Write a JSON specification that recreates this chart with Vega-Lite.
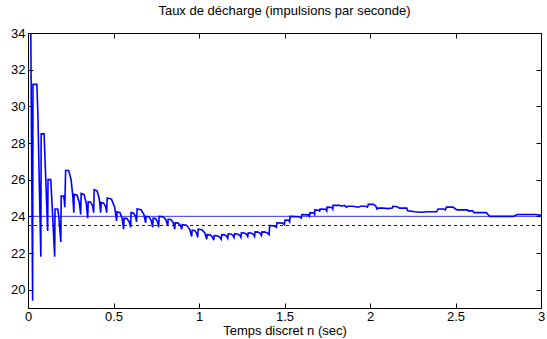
{
  "$schema": "https://vega.github.io/schema/vega-lite/v6.json",
  "width": 513,
  "height": 275,
  "autosize": "none",
  "padding": {"left": 28, "top": 33, "right": 6, "bottom": 31},
  "background": "white",
  "config": {
    "font": "Liberation Sans",
    "view": {"stroke": "black", "strokeWidth": 1},
    "axis": {"grid": false, "domainColor": "black", "tickColor": "black", "labelColor": "black", "titleColor": "black", "labelFont": "Liberation Sans", "titleFont": "Liberation Sans", "labelFontSize": 13, "titleFontSize": 13, "titleFontWeight": "normal", "tickSize": -5, "labelPadding": 9}
  },
  "title": {"text": "Taux de décharge (impulsions par seconde)", "fontSize": 13, "fontWeight": "normal", "font": "Liberation Sans", "color": "black", "offset": 9},
  "datasets": {
    "rate": [
      {"t":0.012,"v":40},{"t":0.027,"v":19.4},{"t":0.029,"v":31.2},{"t":0.052,"v":31.2},{"t":0.058,"v":29.5},{"t":0.075,"v":21.8},
      {"t":0.077,"v":28.5},{"t":0.094,"v":28.5},{"t":0.100,"v":27.0},{"t":0.115,"v":23.2},{"t":0.117,"v":26.0},{"t":0.133,"v":26.0},
      {"t":0.140,"v":24.8},{"t":0.156,"v":21.8},{"t":0.158,"v":24.4},{"t":0.174,"v":24.4},{"t":0.180,"v":24.0},{"t":0.192,"v":22.6},
      {"t":0.194,"v":25.1},{"t":0.208,"v":25.1},{"t":0.212,"v":24.9},{"t":0.215,"v":24.5},{"t":0.220,"v":26.5},{"t":0.238,"v":26.5},
      {"t":0.252,"v":26.0},{"t":0.262,"v":25.1},{"t":0.268,"v":24.2},
      {"t":0.270,"v":25.2},{"t":0.287,"v":25.15},{"t":0.300,"v":24.76},{"t":0.308,"v":24.1},
      {"t":0.311,"v":25.25},{"t":0.328,"v":25.18},{"t":0.341,"v":24.71},{"t":0.349,"v":23.9},
      {"t":0.352,"v":24.8},{"t":0.366,"v":24.77},{"t":0.378,"v":24.56},{"t":0.384,"v":24.2},
      {"t":0.387,"v":25.45},{"t":0.404,"v":25.39},{"t":0.417,"v":24.95},{"t":0.425,"v":24.2},
      {"t":0.428,"v":24.75},{"t":0.442,"v":24.72},{"t":0.454,"v":24.53},{"t":0.460,"v":24.2},
      {"t":0.463,"v":25.0},{"t":0.488,"v":24.94},{"t":0.507,"v":24.5},{"t":0.518,"v":23.75},
      {"t":0.521,"v":24.25},{"t":0.538,"v":24.2},{"t":0.551,"v":23.87},{"t":0.559,"v":23.3},
      {"t":0.562,"v":23.9},{"t":0.579,"v":23.88},{"t":0.592,"v":23.7},{"t":0.600,"v":23.4},
      {"t":0.603,"v":24.2},{"t":0.617,"v":24.18},{"t":0.629,"v":24.0},{"t":0.635,"v":23.7},
      {"t":0.638,"v":24.4},{"t":0.661,"v":24.36},{"t":0.678,"v":24.1},{"t":0.688,"v":23.65},
      {"t":0.691,"v":24.0},{"t":0.708,"v":23.97},{"t":0.721,"v":23.76},{"t":0.729,"v":23.4},
      {"t":0.732,"v":23.9},{"t":0.746,"v":23.88},{"t":0.758,"v":23.7},{"t":0.764,"v":23.4},
      {"t":0.767,"v":24.0},{"t":0.790,"v":23.98},{"t":0.807,"v":23.8},{"t":0.817,"v":23.5},
      {"t":0.820,"v":23.85},{"t":0.837,"v":23.82},{"t":0.850,"v":23.63},{"t":0.858,"v":23.3},
      {"t":0.861,"v":23.65},{"t":0.878,"v":23.63},{"t":0.891,"v":23.51},{"t":0.899,"v":23.3},
      {"t":0.902,"v":23.55},{"t":0.927,"v":23.52},{"t":0.946,"v":23.29},{"t":0.957,"v":22.9},
      {"t":0.960,"v":23.25},{"t":0.974,"v":23.23},{"t":0.986,"v":23.09},{"t":0.992,"v":22.85},
      {"t":0.995,"v":23.3},{"t":1.018,"v":23.27},{"t":1.035,"v":23.08},{"t":1.045,"v":22.75},
      {"t":1.048,"v":23.0},{"t":1.065,"v":22.99},{"t":1.078,"v":22.88},{"t":1.086,"v":22.7},
      {"t":1.089,"v":22.95},{"t":1.107,"v":22.94},{"t":1.121,"v":22.87},{"t":1.130,"v":22.75},
      {"t":1.133,"v":23.0},{"t":1.149,"v":22.99},{"t":1.161,"v":22.92},{"t":1.168,"v":22.8},
      {"t":1.171,"v":23.05},{"t":1.186,"v":23.04},{"t":1.198,"v":22.97},{"t":1.205,"v":22.85},
      {"t":1.208,"v":23.05},{"t":1.225,"v":23.04},{"t":1.238,"v":22.97},{"t":1.245,"v":22.85},
      {"t":1.248,"v":23.1},{"t":1.265,"v":23.09},{"t":1.278,"v":23.02},{"t":1.285,"v":22.9},
      {"t":1.288,"v":23.1},{"t":1.305,"v":23.09},{"t":1.318,"v":23.02},{"t":1.325,"v":22.9},
      {"t":1.328,"v":23.15},{"t":1.345,"v":23.14},{"t":1.358,"v":23.07},{"t":1.365,"v":22.95},
      {"t":1.368,"v":23.15},{"t":1.387,"v":23.14},{"t":1.402,"v":23.08},{"t":1.410,"v":23.0},
      {"t":1.413,"v":23.5},{"t":1.440,"v":23.48},{"t":1.453,"v":23.4},
      {"t":1.456,"v":23.65},{"t":1.490,"v":23.63},{"t":1.500,"v":23.55},
      {"t":1.503,"v":23.8},{"t":1.525,"v":23.78},{"t":1.530,"v":23.7},
      {"t":1.533,"v":24.0},{"t":1.585,"v":23.98},{"t":1.598,"v":23.9},
      {"t":1.602,"v":24.1},{"t":1.640,"v":24.08},{"t":1.646,"v":24.0},
      {"t":1.649,"v":24.2},{"t":1.672,"v":24.18},{"t":1.676,"v":24.1},
      {"t":1.678,"v":24.35},{"t":1.703,"v":24.33},{"t":1.706,"v":24.25},
      {"t":1.708,"v":24.4},{"t":1.742,"v":24.38},{"t":1.747,"v":24.3},
      {"t":1.749,"v":24.5},{"t":1.778,"v":24.48},{"t":1.782,"v":24.4},
      {"t":1.784,"v":24.6},{"t":1.820,"v":24.6},{"t":1.835,"v":24.55},{"t":1.850,"v":24.6},{"t":1.862,"v":24.5},
      {"t":1.870,"v":24.55},{"t":1.900,"v":24.55},{"t":1.930,"v":24.5},{"t":1.945,"v":24.55},{"t":1.975,"v":24.55},{"t":1.985,"v":24.5},
      {"t":1.990,"v":24.65},{"t":2.020,"v":24.65},{"t":2.035,"v":24.55},{"t":2.040,"v":24.4},
      {"t":2.045,"v":24.45},{"t":2.080,"v":24.45},{"t":2.100,"v":24.42},{"t":2.130,"v":24.45},{"t":2.134,"v":24.55},{"t":2.160,"v":24.52},{"t":2.172,"v":24.45},
      {"t":2.215,"v":24.45},{"t":2.220,"v":24.3},{"t":2.263,"v":24.25},{"t":2.300,"v":24.22},{"t":2.340,"v":24.25},{"t":2.390,"v":24.25},
      {"t":2.398,"v":24.4},{"t":2.430,"v":24.4},{"t":2.440,"v":24.35},{"t":2.447,"v":24.5},{"t":2.485,"v":24.5},{"t":2.500,"v":24.4},
      {"t":2.510,"v":24.35},{"t":2.570,"v":24.35},{"t":2.575,"v":24.3},{"t":2.600,"v":24.3},{"t":2.610,"v":24.2},{"t":2.680,"v":24.2},
      {"t":2.690,"v":24.1},{"t":2.700,"v":24.0},{"t":2.840,"v":24.0},{"t":2.860,"v":24.1},{"t":2.970,"v":24.1},{"t":3.000,"v":24.05}
    ],
    "cible": [{"t":0,"v":24},{"t":3,"v":24}],
    "moyenne": [{"t":0,"v":23.5},{"t":3,"v":23.5}]
  },
  "layer": [
    {
      "data": {"name": "cible"},
      "mark": {"type": "line", "stroke": "#0000ff", "strokeWidth": 1, "opacity": 0.8, "clip": true},
      "encoding": {
        "x": {"field": "t", "type": "quantitative", "scale": {"domain": [0, 3], "nice": false},
              "axis": {"orient": "top", "labels": false, "title": null, "values": [0, 0.5, 1, 1.5, 2, 2.5, 3]}},
        "y": {"field": "v", "type": "quantitative", "scale": {"domain": [19, 34], "nice": false, "zero": false},
              "axis": {"orient": "right", "labels": false, "title": null, "values": [20, 22, 24, 26, 28, 30, 32, 34]}}
      }
    },
    {
      "data": {"name": "moyenne"},
      "mark": {"type": "line", "stroke": "#0000ff", "strokeWidth": 1, "strokeDash": [3, 3], "clip": true},
      "encoding": {
        "x": {"field": "t", "type": "quantitative", "axis": null},
        "y": {"field": "v", "type": "quantitative", "axis": null}
      }
    },
    {
      "data": {"name": "rate"},
      "mark": {"type": "line", "stroke": "#0000ff", "strokeWidth": 1.6, "clip": true},
      "encoding": {
        "x": {"field": "t", "type": "quantitative",
              "axis": {"orient": "bottom", "title": "Temps discret n (sec)", "titlePadding": 1, "labelPadding": 7, "values": [0, 0.5, 1, 1.5, 2, 2.5, 3], "format": "~g", "labelFlush": false}},
        "y": {"field": "v", "type": "quantitative",
              "axis": {"orient": "left", "title": null, "values": [20, 22, 24, 26, 28, 30, 32, 34], "labelPadding": 8}}
      }
    }
  ],
  "resolve": {"axis": {"x": "independent", "y": "independent"}}
}
